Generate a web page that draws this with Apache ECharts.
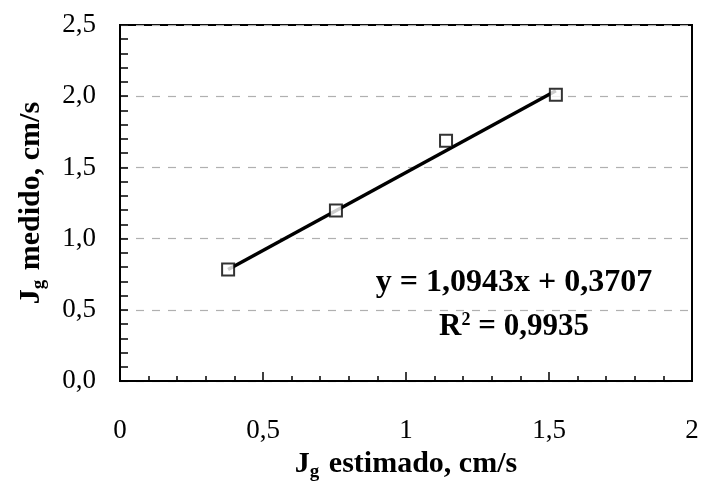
<!DOCTYPE html>
<html>
<head>
<meta charset="utf-8">
<script src="https://cdn.jsdelivr.net/npm/echarts@6/dist/echarts.min.js"></script>
<style>
  html, body { margin: 0; padding: 0; background: #fff; }
  #chart { width: 702px; height: 487px; }
</style>
</head>
<body>
<div id="chart"></div>
<script>
// 数据点 (Jg estimado, Jg medido)
var jgEstimado = [0.378, 0.755, 1.14, 1.524];
var jgMedido = [0.784, 1.197, 1.688, 2.01];
// linha de tendência (extremos)
var trendX = [0.378, 1.524];
var trendY = [0.784, 2.038];
var xTicks = [0, 0.5, 1, 1.5, 2];
var yTicks = [0, 0.5, 1.0, 1.5, 2.0, 2.5];
var eqText = 'y = 1,0943x + 0,3707';
var r2Value = '0,9935';

var FONT = '"Liberation Serif", "Times New Roman", serif';

var chart = echarts.init(document.getElementById('chart'));

var pts = jgEstimado.map(function (x, i) { return [x, jgMedido[i]]; });
var trend = trendX.map(function (x, i) { return [x, trendY[i]]; });

var titleRich = {
  b: { fontFamily: FONT, fontSize: 30, fontWeight: 'bold', color: '#000' },
  s: { fontFamily: FONT, fontSize: 19, fontWeight: 'bold', color: '#000', verticalAlign: 'bottom', padding: [0, 2, -3, 0] }
};

chart.setOption({
  animation: false,
  backgroundColor: '#fff',
  grid: {
    left: 120, right: 10, top: 25, bottom: 105,
    show: true,
    borderColor: '#000',
    borderWidth: 2
  },
  xAxis: {
    type: 'value',
    min: xTicks[0],
    max: xTicks[xTicks.length - 1],
    interval: 0.5,
    axisLine: { show: true, lineStyle: { color: '#000', width: 2 } },
    axisTick: { show: true, inside: true, length: 9, lineStyle: { color: '#000', width: 1.5 } },
    minorTick: { show: true, splitNumber: 5, length: 5, lineStyle: { color: '#000', width: 1.5 } },
    splitLine: { show: false },
    axisLabel: {
      margin: 36,
      color: '#000',
      fontFamily: FONT,
      fontSize: 27,
      formatter: function (v) { return String(v).replace('.', ','); }
    },
    name: '{b|J}{s|g}{b| estimado, cm/s}',
    nameLocation: 'middle',
    nameGap: 67,
    nameTextStyle: { rich: titleRich }
  },
  yAxis: {
    type: 'value',
    min: yTicks[0],
    max: yTicks[yTicks.length - 1],
    interval: 0.5,
    axisLine: { show: true, lineStyle: { color: '#000', width: 2 } },
    axisTick: { show: true, inside: true, length: 8, lineStyle: { color: '#000', width: 1.5 } },
    minorTick: { show: true, splitNumber: 5, length: 8, lineStyle: { color: '#000', width: 1.5 } },
    splitLine: { show: true, lineStyle: { color: '#b0b0b0', width: 1.2, type: [8, 8] } },
    axisLabel: {
      margin: 24,
      color: '#000',
      fontFamily: FONT,
      fontSize: 27,
      formatter: function (v) { return v.toFixed(1).replace('.', ','); }
    },
    name: '{b|J}{s|g}{b| medido, cm/s}',
    nameLocation: 'middle',
    nameGap: 74,
    nameTextStyle: { rich: titleRich }
  },
  series: [
    {
      type: 'line',
      data: trend,
      symbol: 'none',
      lineStyle: { color: '#000', width: 3.5 },
      z: 2
    },
    {
      type: 'scatter',
      data: pts,
      symbol: 'rect',
      symbolSize: 12,
      itemStyle: { color: '#fff', borderColor: '#000', borderWidth: 2 },
      z: 3
    }
  ],
  graphic: [
    {
      type: 'text',
      x: 514, y: 283,
      style: {
        text: eqText,
        align: 'center',
        verticalAlign: 'middle',
        fontFamily: FONT, fontSize: 32, fontWeight: 'bold', fill: '#000'
      }
    },
    {
      type: 'text',
      x: 514, y: 327,
      style: {
        text: '{b|R}{sup|2}{b| = ' + r2Value + '}',
        align: 'center',
        verticalAlign: 'middle',
        rich: {
          b: { fontFamily: FONT, fontSize: 31, fontWeight: 'bold', fill: '#000' },
          sup: { fontFamily: FONT, fontSize: 18, fontWeight: 'bold', fill: '#000', verticalAlign: 'top', padding: [0, 0, 10, 0] }
        }
      }
    }
  ]
});
</script>
</body>
</html>
